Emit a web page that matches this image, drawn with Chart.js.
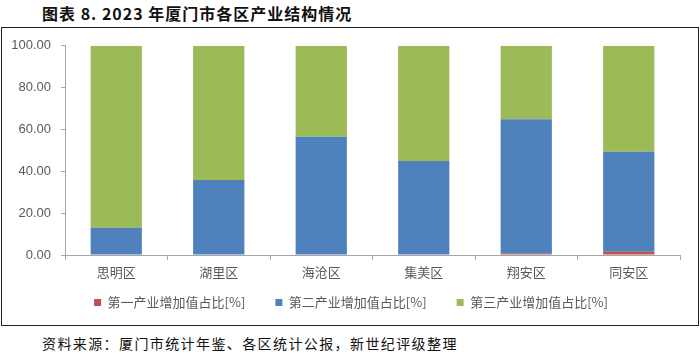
<!DOCTYPE html>
<html>
<head>
<meta charset="utf-8">
<script src="https://cdn.jsdelivr.net/npm/chart.js@4"></script>
<style>
  body { margin: 0; width: 700px; height: 355px; background: #fff; position: relative; overflow: hidden; }
  .title { position: absolute; left: 42px; top: 1px; font: bold 16px "Noto Sans CJK SC"; letter-spacing: 1px; color: #111; }
  .box { position: absolute; left: 1px; top: 27px; width: 696px; height: 297px; border: 1.5px solid #222; }
  .source { position: absolute; left: 42px; top: 333px; font: 14px "Noto Sans CJK SC"; letter-spacing: 1.4px; color: #111; }
</style>
</head>
<body>
<div class="title">图表 8. 2023 年厦门市各区产业结构情况</div>
<div class="box"><canvas id="chart" width="696" height="297"></canvas></div>
<div class="source">资料来源：厦门市统计年鉴、各区统计公报，新世纪评级整理</div>
<script>
// 各区
const districts = ['思明区', '湖里区', '海沧区', '集美区', '翔安区', '同安区'];
// 三次产业增加值占比 (%)
const primary = [0, 0, 0, 0, 0.6, 1.5];
const secondary = [13.0, 35.9, 56.5, 44.9, 64.3, 47.9];
const tertiary = [87.0, 64.1, 43.5, 55.1, 35.1, 50.6];
const yTicks = [0, 20, 40, 60, 80, 100];

const labelColor = '#595959';
const axisColor = '#a6a6a6';

// legend sits closer to the axis labels than chart.js would put it
const moveLegend = {
    id: 'moveLegend',
    afterLayout(chart) {
        const lg = chart.legend;
        const h = lg.bottom - lg.top;
        lg.top = 238;
        lg.bottom = lg.top + h;
        lg.left += 10;
        lg.right += 10;
    }
};

const ctx = document.getElementById('chart').getContext('2d');
new Chart(ctx, {
    type: 'bar',
    data: {
        labels: districts,
        datasets: [
            { label: '第一产业增加值占比[%]', data: primary, backgroundColor: '#C0504D' },
            { label: '第二产业增加值占比[%]', data: secondary, backgroundColor: '#4F81BD' },
            { label: '第三产业增加值占比[%]', data: tertiary, backgroundColor: '#9BBB59' }
        ]
    },
    options: {
        responsive: false,
        animation: false,
        layout: { padding: { left: 0, right: 18, top: 15, bottom: -13 } },
        datasets: { bar: { categoryPercentage: 1.0, barPercentage: 0.5 } },
        scales: {
            x: {
                stacked: true,
                grid: { display: true, drawOnChartArea: false, drawTicks: true, tickLength: 5, color: axisColor },
                border: { color: axisColor },
                ticks: { color: labelColor, font: { size: 13, family: "'Noto Sans CJK SC'" }, padding: 4 },
                afterFit: (scale) => { scale.height = 30; }
            },
            y: {
                stacked: true,
                min: 0,
                max: 100,
                afterBuildTicks: (scale) => { scale.ticks = yTicks.map(v => ({ value: v })); },
                grid: { display: true, drawOnChartArea: false, drawTicks: true, tickLength: 4, color: axisColor },
                border: { color: axisColor },
                ticks: {
                    color: labelColor,
                    font: { size: 13, family: "'Liberation Sans'" },
                    padding: 10,
                    callback: (v) => Number(v).toFixed(2)
                },
                afterFit: (scale) => { scale.width = 63; }
            }
        },
        plugins: {
            legend: {
                position: 'bottom',
                labels: {
                    color: labelColor,
                    boxWidth: 7,
                    boxHeight: 7,
                    padding: 30,
                    font: { size: 13, family: "'Noto Sans CJK SC'" }
                }
            },
            tooltip: { enabled: false }
        }
    },
    plugins: [moveLegend]
});
</script>
</body>
</html>
